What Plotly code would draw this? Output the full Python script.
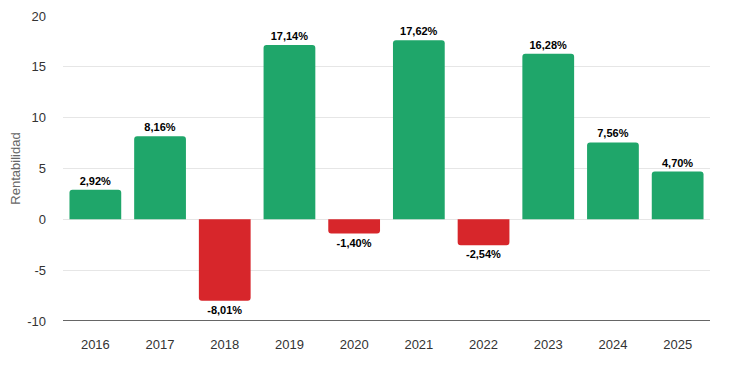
import plotly.graph_objects as go

years = ["2016", "2017", "2018", "2019", "2020", "2021", "2022", "2023", "2024", "2025"]
returns = [2.92, 8.16, -8.01, 17.14, -1.40, 17.62, -2.54, 16.28, 7.56, 4.70]
y_ticks = [-10, -5, 0, 5, 10, 15, 20]
y_tick_text = [str(t) for t in y_ticks]
labels = [f"{v:.2f}%".replace(".", ",") for v in returns]
colors = ["#1fa66a" if v >= 0 else "#d7262b" for v in returns]

FONT = "Arial, Liberation Sans, sans-serif"

fig = go.Figure(go.Bar(
    x=years, y=returns, text=labels, textposition="outside",
    marker=dict(color=colors, line=dict(width=0)),
    textfont=dict(family=FONT, size=11, color="#000000", weight="bold"),
    cliponaxis=False, hoverinfo="skip",
))
fig.update_layout(
    width=729, height=367, autosize=False,
    margin=dict(l=55, r=27, t=8, b=54, autoexpand=False),
    paper_bgcolor="white", plot_bgcolor="white",
    bargap=0.2, barcornerradius=3,
    showlegend=False,
    font=dict(family=FONT, size=13, color="#333333"),
    xaxis=dict(showline=False, ticks="", showgrid=False, automargin=False,
               ticklabelstandoff=14, tickfont=dict(size=13, color="#333333")),
    yaxis=dict(range=[-10, 20], tickvals=y_ticks, ticktext=y_tick_text,
               showgrid=True, gridcolor="#e6e6e6", gridwidth=1,
               zeroline=False, ticks="", automargin=False, ticklabelstandoff=16,
               tickfont=dict(size=13, color="#333333"),
               title=dict(text="Rentabilidad", font=dict(size=13, color="#666666"), standoff=4)),
)
fig.add_shape(type="line", xref="paper", yref="y", x0=0, x1=1, y0=-10, y1=-10,
              line=dict(color="#333333", width=1.3))
fig.write_html("out.html")
